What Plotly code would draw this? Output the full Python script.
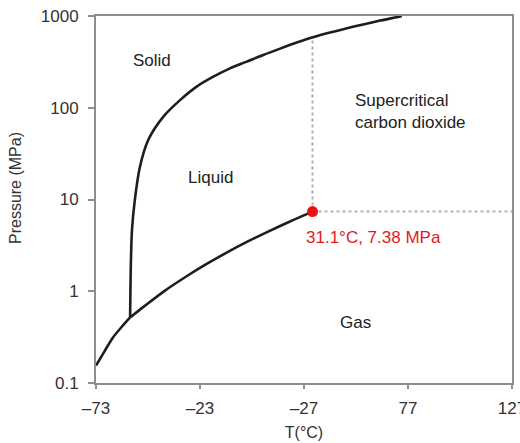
import plotly.graph_objects as go

# --- data ---
sub_T = [-73.0, -69.0, -65.0, -61.0, -56.6]
sub_P = [0.155, 0.22, 0.31, 0.40, 0.518]

vap_T = [-56.6, -50.0, -40.0, -30.0, -20.0, -10.0, 0.0, 10.0, 20.0, 31.1]
vap_P = [0.518, 0.68, 1.01, 1.43, 1.97, 2.65, 3.49, 4.50, 5.73, 7.38]

melt_T = [-56.6, -56.2, -55.7, -54.4, -51.9, -47.9, -40.6, -32.6, -24.6,
          -16.6, -8.6, -0.5, 7.4, 15.5, 23.5, 31.3, 39.5, 47.7, 55.4, 63.6, 73.2, 74.0]
melt_P = [0.518, 2.19, 4.65, 9.6, 22.6, 44.5, 80, 121, 170,
          218, 269, 318, 376, 441, 513, 586, 660, 734, 810, 891, 988, 1000]

crit_T = 31.1
crit_P = 7.38
crit_top_P = 540
x_max = 127

x_tickvals = [-73, -23, 27, 77, 127]
x_ticktext = ["–73", "–23", "–27", "77", "127"]
y_tickvals = [0.1, 1, 10, 100, 1000]
y_ticktext = ["0.1", "1", "10", "100", "1000"]

region_labels = ["Solid", "Liquid", "Supercritical<br>carbon dioxide", "Gas"]
crit_label = "31.1°C, 7.38 MPa"

FONT = "Liberation Sans, Arial, sans-serif"
LINE = "#1e1e1e"
AXIS = "#8e8e8e"

fig = go.Figure()

for T, P in [(sub_T, sub_P), (vap_T, vap_P), (melt_T, melt_P)]:
    fig.add_trace(go.Scatter(x=T, y=P, mode="lines",
                             line=dict(color=LINE, width=2.6, shape="spline", smoothing=0.8),
                             showlegend=False, hoverinfo="skip"))

# dotted guide lines
fig.add_trace(go.Scatter(x=[crit_T, crit_T], y=[crit_P, crit_top_P], mode="lines",
                         line=dict(color="#b0b0b0", width=2, dash="dot"),
                         showlegend=False, hoverinfo="skip"))
fig.add_trace(go.Scatter(x=[crit_T, x_max], y=[crit_P, crit_P], mode="lines",
                         line=dict(color="#b0b0b0", width=2, dash="dot"),
                         showlegend=False, hoverinfo="skip"))

# critical point
fig.add_trace(go.Scatter(x=[crit_T], y=[crit_P], mode="markers",
                         marker=dict(color="#ee1111", size=11),
                         showlegend=False, hoverinfo="skip"))

W, H = 520, 443
L, R, T_, B = 96, 8, 16, 60
pw, ph = W - L - R, H - T_ - B

def px(x):
    return (x - L) / pw

def py(y):
    return (H - B - y) / ph

ann = [
    dict(text=region_labels[0], x=px(152), y=py(60)),
    dict(text=region_labels[1], x=px(210), y=py(177)),
    dict(text=region_labels[3], x=px(355), y=py(322)),
]
annotations = []
for a in ann:
    annotations.append(dict(text=a["text"], x=a["x"], y=a["y"], xref="paper", yref="paper",
                            showarrow=False, xanchor="center", yanchor="middle",
                            font=dict(family=FONT, size=17, color="#222222")))
annotations.append(dict(text=region_labels[2], x=px(353), y=py(111), xref="paper", yref="paper",
                        showarrow=False, xanchor="left", yanchor="middle", align="left",
                        font=dict(family=FONT, size=17, color="#222222")))
annotations.append(dict(text=crit_label, x=px(304), y=py(237), xref="paper", yref="paper",
                        showarrow=False, xanchor="left", yanchor="middle",
                        font=dict(family=FONT, size=17, color="#e3191c")))
annotations.append(dict(text="Pressure (MPa)", x=px(15), y=py(188), xref="paper", yref="paper",
                        showarrow=False, xanchor="center", yanchor="middle", textangle=-90,
                        font=dict(family=FONT, size=16, color="#333333")))

fig.update_layout(
    width=W, height=H,
    margin=dict(l=L, r=R, t=T_, b=B, autoexpand=False),
    paper_bgcolor="white", plot_bgcolor="white",
    annotations=annotations,
    xaxis=dict(range=[-73, 127], tickvals=x_tickvals, ticktext=x_ticktext,
               automargin=False,
               showgrid=False, zeroline=False, showline=True, linecolor=AXIS, linewidth=2,
               mirror=True, ticks="outside", ticklen=4, tickcolor=AXIS, tickwidth=2,
               ticklabelstandoff=5, ticklabeloverflow="allow",
               tickfont=dict(family=FONT, size=17, color="#333333"),
               title=dict(text="T(°C)", font=dict(family=FONT, size=16, color="#333333"),
                          standoff=9)),
    yaxis=dict(type="log", range=[-1, 3], tickvals=y_tickvals, ticktext=y_ticktext,
               automargin=False,
               showgrid=False, zeroline=False, showline=True, linecolor=AXIS, linewidth=2,
               mirror=True, ticks="outside", ticklen=6, tickcolor=AXIS, tickwidth=2,
               ticklabelstandoff=6,
               tickfont=dict(family=FONT, size=17, color="#333333")),
)

fig.write_html("out.html")
